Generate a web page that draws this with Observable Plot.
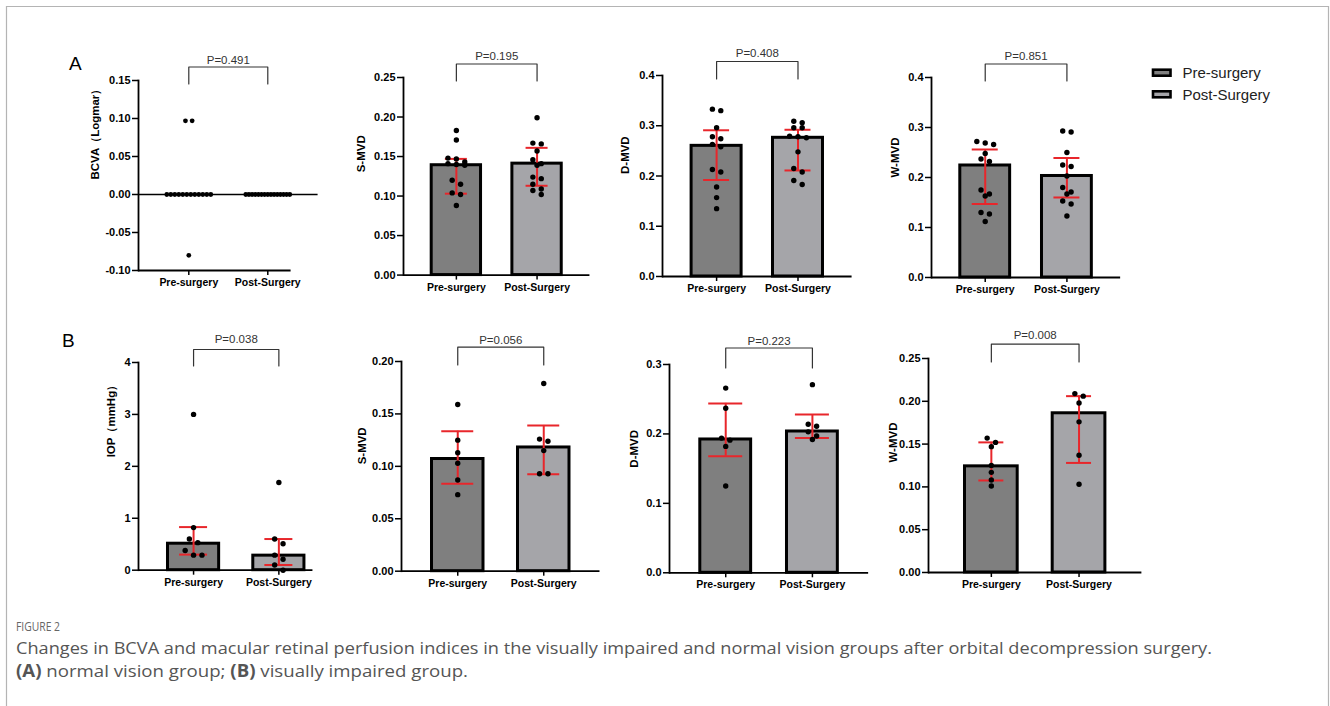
<!DOCTYPE html>
<html>
<head>
<meta charset="utf-8">
<script src="https://cdn.jsdelivr.net/npm/d3@7"></script>
<script src="https://cdn.jsdelivr.net/npm/@observablehq/plot@0.6"></script>
<style>
  body { margin: 0; background: #fff; }
  #root { position: relative; width: 1330px; height: 706px; overflow: hidden; background: #fff;
          font-family: "Liberation Sans", Arial, sans-serif; }
  #root > svg { position: absolute; }
</style>
</head>
<body>
<div id="root"></div>
<script>
// ---------------- DATA ----------------
const groups = ["Pre-surgery", "Post-Surgery"];
const rowLetters = ["A", "B"];
const yLabels = ["BCVA（Logmar）", "S-MVD", "D-MVD", "W-MVD", "IOP（mmHg）", "S-MVD", "D-MVD", "W-MVD"];
const pLabels = ["P=0.491", "P=0.195", "P=0.408", "P=0.851", "P=0.038", "P=0.056", "P=0.223", "P=0.008"];
const yTicks = [
  [-0.10, -0.05, 0.00, 0.05, 0.10, 0.15],
  [0.00, 0.05, 0.10, 0.15, 0.20, 0.25],
  [0.0, 0.1, 0.2, 0.3, 0.4],
  [0.0, 0.1, 0.2, 0.3, 0.4],
  [0, 1, 2, 3, 4],
  [0.00, 0.05, 0.10, 0.15, 0.20],
  [0.0, 0.1, 0.2, 0.3],
  [0.00, 0.05, 0.10, 0.15, 0.20, 0.25]
];
const tickDecimals = [2, 2, 1, 1, 0, 2, 1, 2];

const preValues = [
  [0.097, 0.097, 0, 0, 0, 0, 0, 0, 0, 0, 0, 0, 0, 0, -0.08],
  [0.183, 0.171, 0.148, 0.147, 0.143, 0.141, 0.140, 0.139, 0.120, 0.115, 0.104, 0.102, 0.088],
  [0.333, 0.330, 0.296, 0.278, 0.274, 0.263, 0.258, 0.213, 0.208, 0.178, 0.157, 0.135],
  [0.272, 0.269, 0.266, 0.248, 0.237, 0.232, 0.175, 0.167, 0.163, 0.130, 0.127, 0.112],
  [3.0, 0.82, 0.60, 0.53, 0.38, 0.29, 0.29],
  [0.159, 0.125, 0.113, 0.103, 0.087, 0.073],
  [0.266, 0.237, 0.194, 0.191, 0.182, 0.125],
  [0.157, 0.152, 0.147, 0.125, 0.117, 0.108, 0.101]
];
const postValues = [
  [0, 0, 0, 0, 0, 0, 0, 0, 0, 0, 0, 0, 0, 0, 0],
  [0.199, 0.167, 0.166, 0.157, 0.146, 0.141, 0.139, 0.124, 0.122, 0.115, 0.109, 0.107, 0.102],
  [0.309, 0.306, 0.296, 0.296, 0.279, 0.278, 0.276, 0.248, 0.215, 0.208, 0.191, 0.183],
  [0.293, 0.291, 0.250, 0.225, 0.222, 0.203, 0.180, 0.171, 0.167, 0.153, 0.147, 0.123],
  [1.69, 0.60, 0.51, 0.29, 0.21, 0.10, 0.0],
  [0.179, 0.126, 0.124, 0.115, 0.093, 0.093],
  [0.271, 0.214, 0.211, 0.203, 0.197, 0.192],
  [0.209, 0.206, 0.198, 0.176, 0.137, 0.103]
];
// bar heights (central value) and error bar ends; first panel is a dot plot only
const barPre      = [null, 0.139, 0.260, 0.224, 0.51, 0.107, 0.192, 0.124];
const barPost     = [null, 0.141, 0.276, 0.203, 0.28, 0.118, 0.2035, 0.186];
const errPreLow   = [null, 0.103, 0.192, 0.147, 0.30, 0.0835, 0.168, 0.1075];
const errPreHigh  = [null, 0.147, 0.291, 0.256, 0.83, 0.1335, 0.244, 0.152];
const errPostLow  = [null, 0.113, 0.211, 0.160, 0.10, 0.0925, 0.194, 0.128];
const errPostHigh = [null, 0.161, 0.292, 0.239, 0.60, 0.139, 0.228, 0.206];

const captionHead = "FIGURE 2";
const captionLine1 = "Changes in BCVA and macular retinal perfusion indices in the visually impaired and normal vision groups after orbital decompression surgery.";
const captionLine2 = [["(A)", true], [" normal vision group; ", false], ["(B)", true], [" visually impaired group.", false]];

// ---------------- LAYOUT / STYLE ----------------
const fills = ["#7f7f7f", "#a5a5a9"];
const errColor = "#e8262b";
const layout = [
  {axisX: 137.7, yTop: 80,    yBot: 270,   preL: 162,   preR: 214,   postL: 241,   postR: 293,   capW: 0,  labelDx: -43, labelDy: 4,  brTop: -13.5, pDy: -25,   ruleInset: 27, r: 2.4, spacing: 6.7, maxSpan: 44},
  {axisX: 403.3, yTop: 76.7,  yBot: 274.3, preL: 430,   preR: 482.7, postL: 510.7, postR: 562.7, capW: 22, labelDx: -42, labelDy: -4, brTop: -13.5, pDy: -25.7, ruleInset: 0},
  {axisX: 661.7, yTop: 75,    yBot: 276,   preL: 689.3, preR: 742.7, postL: 770.7, postR: 823.3, capW: 26, labelDx: -37, labelDy: -2, brTop: -14,   pDy: -26.7, ruleInset: 0},
  {axisX: 931,   yTop: 76.7,  yBot: 276.7, preL: 958.3, preR: 1011.7,postL: 1040,  postR: 1092.3,capW: 26, labelDx: -36, labelDy: 0,  brTop: -13.5, pDy: -25.7, ruleInset: 0},
  {axisX: 137.7, yTop: 362.3, yBot: 570,   preL: 165.7, preR: 219.3, postL: 251,   postR: 305.7, capW: 28, labelDx: -27, labelDy: -9, brTop: -13,   pDy: -27.3, ruleInset: 21},
  {axisX: 401,   yTop: 361,   yBot: 570.7, preL: 430,   preR: 484.3, postL: 516,   postR: 570.7, capW: 32, labelDx: -39, labelDy: -2, brTop: -14.3, pDy: -26,   ruleInset: 0},
  {axisX: 669,   yTop: 364,   yBot: 572.3, preL: 698.3, preR: 753.3, postL: 785,   postR: 837.7, capW: 34, labelDx: -35, labelDy: -1, brTop: -16.5, pDy: -27.3, ruleInset: 0},
  {axisX: 928.3, yTop: 357.7, yBot: 571.7, preL: 963.3, preR: 1019,  postL: 1051,  postR: 1106.7,capW: 25, labelDx: -35, labelDy: -3, brTop: -14.4, pDy: -27.7, ruleInset: 0}
];

// GraphPad-like scatter: values close in y are laid out side by side in a row
function arrangeRows(values, group, ppu, spacing, maxSpan, minGap) {
  const sorted = values.slice().sort((a, b) => b - a);
  const rows = [];
  let cur = null;
  for (const v of sorted) {
    if (cur && (cur[0] - v) * ppu < minGap) cur.push(v);
    else { cur = [v]; rows.push(cur); }
  }
  const out = [];
  for (const row of rows) {
    const n = row.length;
    const s = n > 1 ? Math.min(spacing, maxSpan / (n - 1)) : 0;
    row.forEach((v, k) => out.push({group, value: v, dx: +((k - (n - 1) / 2) * s).toFixed(2)}));
  }
  return out;
}

const root = document.getElementById("root");
const FONT = "Liberation Sans, Arial, sans-serif";

function buildPanel(i) {
  const L = layout[i];
  const ticks = yTicks[i];
  const ymin = ticks[0], ymax = ticks[ticks.length - 1];
  const innerH = L.yBot - L.yTop;
  const ppu = innerH / (ymax - ymin);
  const edge = 1.5;
  const s0 = L.preL + edge;
  const step = L.postL - L.preL;
  const bw = ((L.preR - L.preL) + (L.postR - L.postL)) / 2 - 2 * edge;
  const pIn = 1 - bw / step;
  const pOut = (s0 - L.axisX) / step;
  const innerW = step * (2 - pIn + 2 * pOut);
  const mL = 80, mR = 14, mT = 46, mB = 34;

  const r = L.r ?? 2.7, spacing = L.spacing ?? 8.4, maxSpan = L.maxSpan ?? 44;
  const pts = [
    ...arrangeRows(preValues[i], groups[0], ppu, spacing, maxSpan, 5.5),
    ...arrangeRows(postValues[i], groups[1], ppu, spacing, maxSpan, 5.5)
  ];
  const byDx = d3.groups(pts, d => d.dx);

  const marks = [];
  if (barPre[i] != null) {
    const stats = [
      {group: groups[0], mean: barPre[i], lo: errPreLow[i], hi: errPreHigh[i]},
      {group: groups[1], mean: barPost[i], lo: errPostLow[i], hi: errPostHigh[i]}
    ];
    const inset = (bw - L.capW) / 2;
    marks.push(Plot.barY(stats, {x: "group", y: "mean", fill: "group", stroke: "#000", strokeWidth: 3}));
    marks.push(Plot.ruleX(stats, {x: "group", y1: "lo", y2: "hi", stroke: errColor, strokeWidth: 2}));
    marks.push(Plot.tickY(stats, {x: "group", y: "lo", stroke: errColor, strokeWidth: 2, insetLeft: inset, insetRight: inset}));
    marks.push(Plot.tickY(stats, {x: "group", y: "hi", stroke: errColor, strokeWidth: 2, insetLeft: inset, insetRight: inset}));
  } else {
    marks.push(Plot.ruleY([0], {stroke: "#000", strokeWidth: 1.5}));
  }
  for (const [dx, sub] of byDx) {
    marks.push(Plot.dot(sub, {x: "group", y: "value", dx, r, fill: "#000", stroke: "none"}));
  }
  // axes
  marks.push(Plot.frame({anchor: "left", stroke: "#000", strokeWidth: 1.8}));
  marks.push(Plot.ruleY([ymin], {stroke: "#000", strokeWidth: 1.8, insetRight: L.ruleInset}));
  marks.push(Plot.axisY({ticks, tickFormat: d => d.toFixed(tickDecimals[i]), tickSize: 6, tickPadding: 2,
    fontSize: 11, fontWeight: "bold", strokeWidth: 1.5, label: null, fill: "#000"}));
  marks.push(Plot.axisX({tickSize: 5, tickPadding: 3, fontSize: 10.5, fontWeight: "bold", strokeWidth: 1.5, label: null, fill: "#000"}));
  marks.push(Plot.text([yLabels[i]], {text: d => d, frameAnchor: "left", rotate: -90, dx: L.labelDx, dy: L.labelDy,
    fontSize: 11.5, fontWeight: "bold", fill: "#000"}));
  // significance bracket
  const legV = ymax - 3.5 / ppu, topV = ymax - L.brTop / ppu;
  marks.push(Plot.line(
    [{g: groups[0], v: legV}, {g: groups[0], v: topV}, {g: groups[1], v: topV}, {g: groups[1], v: legV}],
    {x: "g", y: "v", stroke: "#333", strokeWidth: 1.2}));
  marks.push(Plot.text([pLabels[i]], {text: d => d, frameAnchor: "top", dy: L.pDy, fontSize: 11.5, fill: "#333"}));

  const svg = Plot.plot({
    width: mL + innerW + mR,
    height: mT + innerH + mB,
    marginLeft: mL, marginRight: mR, marginTop: mT, marginBottom: mB,
    style: {fontFamily: FONT, background: "none", overflow: "visible", maxWidth: "none"},
    x: {type: "band", domain: groups, paddingInner: pIn, paddingOuter: pOut, align: 0.5, round: false},
    y: {domain: [ymin, ymax]},
    color: {domain: groups, range: fills},
    marks
  });
  svg.style.left = (L.axisX - mL) + "px";
  svg.style.top = (L.yTop - mT) + "px";
  root.appendChild(svg);
}

// overlay: border, row letters, legend, caption
const over = d3.create("svg").attr("width", 1330).attr("height", 706).style("left", "0px").style("top", "0px");
over.append("path").attr("d", "M6.5,706 V6.5 H1328.5 V706").attr("fill", "none").attr("stroke", "#b4b4b4").attr("stroke-width", 1.2);
over.selectAll("text.letter").data(rowLetters).join("text").attr("class", "letter")
  .attr("x", (d, k) => k === 0 ? 69 : 62).attr("y", (d, k) => k === 0 ? 70 : 347)
  .attr("font-family", FONT).attr("font-size", 19).attr("fill", "#000").text(d => d);
const lg = over.append("g");
groups.forEach((g, k) => {
  const cy = 72.7 + k * 21.6;
  lg.append("rect").attr("x", 1153).attr("y", cy - 3).attr("width", 17.5).attr("height", 6)
    .attr("fill", fills[k]).attr("stroke", "#000").attr("stroke-width", 2.6);
  lg.append("text").attr("x", 1182.5).attr("y", cy + 5.3).attr("font-family", FONT).attr("font-size", 15)
    .attr("fill", "#222").text(g);
});
const cap = over.append("g").attr("font-family", "Open Sans, Noto Sans, sans-serif").attr("fill", "#555");
cap.append("text").attr("x", 16).attr("y", 631).attr("font-size", 12.5).attr("fill", "#666")
  .attr("textLength", 44).attr("lengthAdjust", "spacingAndGlyphs").text(captionHead);
cap.append("text").attr("x", 16).attr("y", 654).attr("font-size", 17)
  .attr("textLength", 1196).attr("lengthAdjust", "spacingAndGlyphs").text(captionLine1);
const l2 = cap.append("text").attr("x", 16).attr("y", 677).attr("font-size", 17)
  .attr("textLength", 452).attr("lengthAdjust", "spacingAndGlyphs");
captionLine2.forEach(([t, b]) => l2.append("tspan").attr("font-weight", b ? "bold" : "normal").text(t));
root.appendChild(over.node());

for (let i = 0; i < 8; i++) buildPanel(i);
</script>
</body>
</html>
